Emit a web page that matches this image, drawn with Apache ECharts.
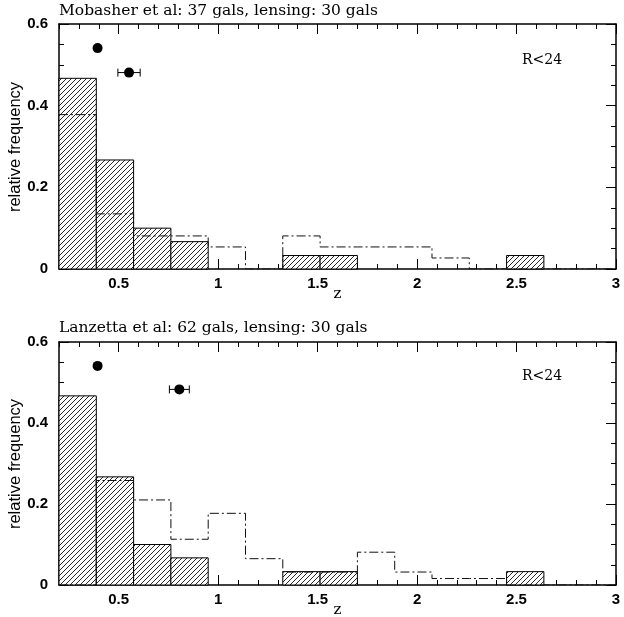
<!DOCTYPE html>
<html>
<head>
<meta charset="utf-8">
<script src="https://cdn.jsdelivr.net/npm/echarts@6/dist/echarts.min.js"></script>
<style>html,body{margin:0;padding:0;background:#fff}#c{width:624px;height:617px}</style>
</head>
<body>
<div id="c"></div>
<script>
// ---- data ----
const binEdges = [0.2, 0.3875, 0.575, 0.7625, 0.95, 1.1375, 1.325, 1.5125, 1.7, 1.8875, 2.075, 2.2625, 2.45, 2.6375, 2.825, 3.0];
const lensing = [0.467, 0.267, 0.100, 0.067, 0, 0, 0.033, 0.033, 0, 0, 0, 0, 0.033, 0, 0];
const mobasher = [0.378, 0.135, 0.081, 0.081, 0.054, 0, 0.081, 0.054, 0.054, 0.054, 0.027, 0, 0, 0, 0];
const lanzetta = [0, 0.258, 0.210, 0.113, 0.177, 0.065, 0.032, 0.032, 0.081, 0.032, 0.016, 0.016, 0, 0, 0];
const pointsTop = [[0.394, 0.541], [0.552, 0.481]];
const errTop = [0, 0.056];
const pointsBottom = [[0.394, 0.541], [0.805, 0.483]];
const errBottom = [0, 0.05];
const xMajorTicks = [0.5, 1, 1.5, 2, 2.5, 3];
const titles = ['Mobasher et al: 37 gals, lensing: 30 gals', 'Lanzetta et al: 62 gals, lensing: 30 gals'];
const yTitle = 'relative frequency';
const noteText = 'R<24';

// ---- hatch pattern ----
const pc = document.createElement('canvas');
pc.width = 5; pc.height = 5;
const ctx = pc.getContext('2d');
ctx.fillStyle = '#fff'; ctx.fillRect(0, 0, 5, 5);
ctx.strokeStyle = '#111'; ctx.lineWidth = 0.9;
ctx.beginPath();
ctx.moveTo(-1, 6); ctx.lineTo(6, -1);
ctx.moveTo(-1, 1); ctx.lineTo(1, -1);
ctx.moveTo(4, 6); ctx.lineTo(6, 4);
ctx.stroke();
const hatch = { image: pc, repeat: 'repeat' };

const chart = echarts.init(document.getElementById('c'), null, { renderer: 'canvas' });

const grids = [
  { left: 59, right: 8, top: 24, height: 245, outerBoundsMode: 'none', containLabel: false },
  { left: 59, right: 8, top: 342, height: 243, outerBoundsMode: 'none', containLabel: false }
];
const sans = 'Liberation Sans, Arial, sans-serif';
const serif = 'DejaVu Serif, serif';
const tickFont = { fontFamily: sans, fontSize: 15, fontWeight: 'bold', color: '#000' };

const xAxes = [], yAxes = [];
grids.forEach((g, gi) => {
  const base = { type: 'value', gridIndex: gi, min: 0.2, max: 3, splitLine: { show: false } };
  xAxes.push(Object.assign({}, base, { position: 'bottom', interval: 0.1,
    axisLine: { show: true, lineStyle: { color: '#000', width: 1.5 } },
    axisTick: { show: true, inside: true, length: 5, lineStyle: { color: '#000', width: 1 } },
    axisLabel: { show: false },
    name: 'z', nameLocation: 'middle', nameGap: 18,
    nameTextStyle: { fontFamily: serif, fontSize: 15, color: '#000' } }));
  xAxes.push(Object.assign({}, base, { position: 'bottom',
    axisLine: { show: false },
    axisTick: { show: true, inside: true, length: 10, customValues: xMajorTicks, lineStyle: { color: '#000', width: 1 } },
    axisLabel: Object.assign({ show: true, customValues: xMajorTicks, margin: 7,
      formatter: v => String(v) }, tickFont) }));
  xAxes.push(Object.assign({}, base, { position: 'top', interval: 0.1,
    axisLine: { show: true, lineStyle: { color: '#000', width: 1.5 } },
    axisTick: { show: true, inside: true, length: 5, lineStyle: { color: '#000', width: 1 } },
    axisLabel: { show: false } }));
  xAxes.push(Object.assign({}, base, { position: 'top',
    axisLine: { show: false },
    axisTick: { show: true, inside: true, length: 10, customValues: xMajorTicks, lineStyle: { color: '#000', width: 1 } },
    axisLabel: { show: false } }));
  const ybase = { type: 'value', gridIndex: gi, min: 0, max: 0.6, interval: 0.2, splitLine: { show: false },
    minorTick: { show: true, splitNumber: 4, length: 5, lineStyle: { color: '#000', width: 1 } } };
  yAxes.push(Object.assign({}, ybase, { position: 'left',
    axisLine: { show: true, lineStyle: { color: '#000', width: 1.5 } },
    axisTick: { show: true, inside: true, length: 10, lineStyle: { color: '#000', width: 1 } },
    axisLabel: Object.assign({ show: true, margin: 11, formatter: v => (v === 0 ? '0' : String(+v.toFixed(1))) }, tickFont) }));
  yAxes.push(Object.assign({}, ybase, { position: 'right',
    axisLine: { show: true, lineStyle: { color: '#000', width: 1.5 } },
    axisTick: { show: true, inside: true, length: 10, lineStyle: { color: '#000', width: 1 } },
    axisLabel: { show: false } }));
});

function histSeries(gi, vals) {
  const data = vals.map((v, i) => [binEdges[i], binEdges[i + 1], v]).filter(d => d[2] > 0);
  return {
    type: 'custom', xAxisIndex: gi * 4, yAxisIndex: gi * 2, z: 2,
    data: data,
    renderItem: (params, api) => {
      const p0 = api.coord([api.value(0), api.value(2)]);
      const p1 = api.coord([api.value(1), 0]);
      return { type: 'rect', shape: { x: p0[0], y: p0[1], width: p1[0] - p0[0], height: p1[1] - p0[1] },
        style: { fill: hatch, stroke: '#000', lineWidth: 1 } };
    }
  };
}
function stepSeries(gi, vals) {
  const pts = [];
  vals.forEach((v, i) => { pts.push([binEdges[i], v]); pts.push([binEdges[i + 1], v]); });
  return { type: 'line', xAxisIndex: gi * 4, yAxisIndex: gi * 2, z: 3, data: pts, showSymbol: false, symbol: 'none',
    lineStyle: { color: '#111', width: 1, type: [9, 3, 2, 3] }, animation: false };
}
function pointSeries(gi, pts) {
  return { type: 'scatter', xAxisIndex: gi * 4, yAxisIndex: gi * 2, z: 5, data: pts, symbol: 'circle', symbolSize: 10,
    itemStyle: { color: '#000', opacity: 1 } };
}
function errSeries(gi, pts, errs) {
  const data = pts.map((p, i) => [p[0], p[1], errs[i]]).filter(d => d[2] > 0);
  return { type: 'custom', xAxisIndex: gi * 4, yAxisIndex: gi * 2, z: 4, data: data,
    renderItem: (params, api) => {
      const a = api.coord([api.value(0) - api.value(2), api.value(1)]);
      const b = api.coord([api.value(0) + api.value(2), api.value(1)]);
      const st = { stroke: '#000', lineWidth: 1 };
      return { type: 'group', children: [
        { type: 'line', shape: { x1: a[0], y1: a[1], x2: b[0], y2: b[1] }, style: st },
        { type: 'line', shape: { x1: a[0], y1: a[1] - 4, x2: a[0], y2: a[1] + 4 }, style: st },
        { type: 'line', shape: { x1: b[0], y1: b[1] - 4, x2: b[0], y2: b[1] + 4 }, style: st }
      ] };
    } };
}

const yTitleStyle = { text: yTitle, font: '16.5px ' + sans, fill: '#000', align: 'center', verticalAlign: 'middle' };
const option = {
  animation: false,
  backgroundColor: '#fff',
  grid: grids,
  xAxis: xAxes,
  yAxis: yAxes,
  graphic: [
    { type: 'text', left: 59, top: 3, style: { text: titles[0], font: '15.5px ' + serif, fill: '#000' } },
    { type: 'text', left: 59, top: 320, style: { text: titles[1], font: '15.5px ' + serif, fill: '#000' } },
    { type: 'text', left: 522, top: 53, style: { text: noteText, font: '14px ' + serif, fill: '#000' } },
    { type: 'text', left: 522, top: 369, style: { text: noteText, font: '14px ' + serif, fill: '#000' } },
    { type: 'text', x: 15, y: 147, rotation: Math.PI / 2, style: yTitleStyle },
    { type: 'text', x: 15, y: 464, rotation: Math.PI / 2, style: yTitleStyle }
  ],
  series: [
    histSeries(0, lensing), stepSeries(0, mobasher), errSeries(0, pointsTop, errTop), pointSeries(0, pointsTop),
    histSeries(1, lensing), stepSeries(1, lanzetta), errSeries(1, pointsBottom, errBottom), pointSeries(1, pointsBottom)
  ]
};
chart.setOption(option);
</script>
</body>
</html>
